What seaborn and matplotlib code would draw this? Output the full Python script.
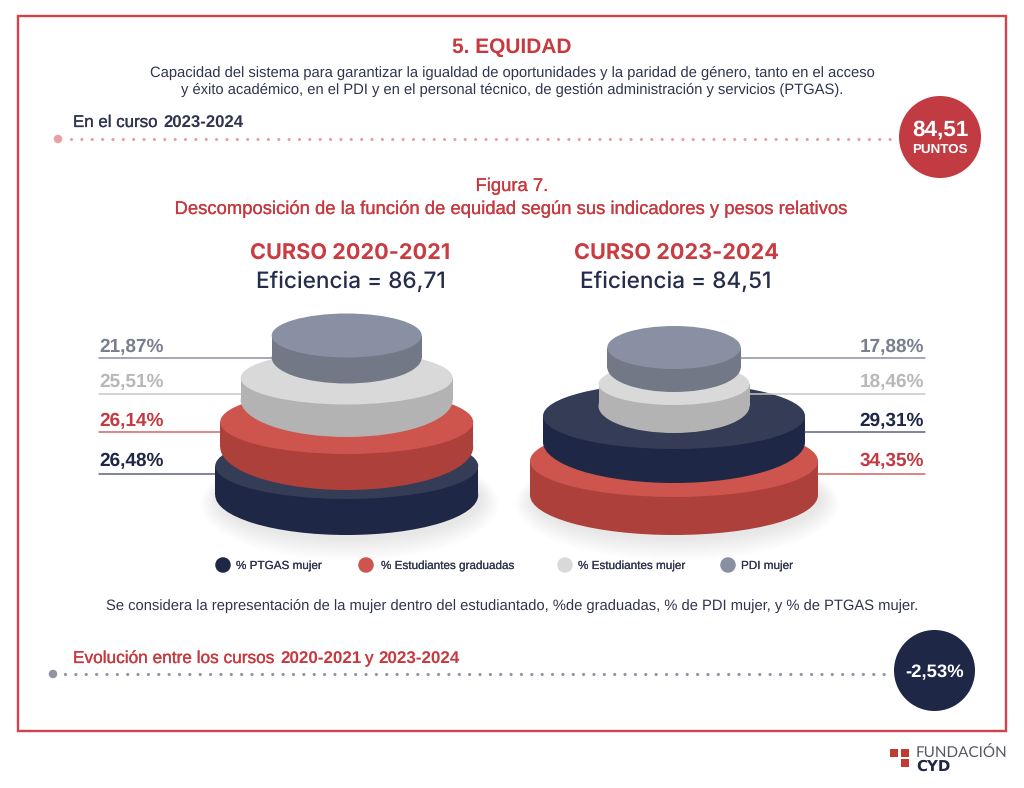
import numpy as np
import pandas as pd
import matplotlib
matplotlib.use("Agg")
import matplotlib.pyplot as plt
from matplotlib.patches import Ellipse, Rectangle
import matplotlib.patheffects as pe
import seaborn as sns

# ---------- data ----------
indicators = ["% PTGAS mujer", "% Estudiantes graduadas", "% Estudiantes mujer", "PDI mujer"]
shares_2021 = [26.48, 26.14, 25.51, 21.87]
shares_2324 = [29.31, 34.35, 18.46, 17.88]
courses = ["CURSO 2020-2021", "CURSO 2023-2024"]
efficiency = [86.71, 84.51]
score_2324 = 84.51
evolution = -2.53

# ---------- styles ----------
top_col = ["#343c56", "#cd554e", "#d9d9d9", "#8a90a3"]
side_col = ["#1f2747", "#ad403a", "#b3b3b3", "#737887"]
legend_col = ["#1f2747", "#cd554e", "#d9d9d9", "#8a90a3"]
label_col = ["#1f2747", "#c23b42", "#b8b8b8", "#7a7f8e"]
line_col = ["#5a607a", "#d0625f", "#c8c8c8", "#8a8f9f"]
RED, NAVY = "#c8393f", "#262d4c"
FRAME = "#d2444b"

# layout per rank (largest share at the bottom): rx, cy, ry, edge height, lower ry
layout_left = [(131.5, 466, 33, 29, 40), (126.5, 422, 32, 25, 43), (106, 378, 26.5, 22, 37), (75, 335.5, 22, 22, 26)]
layout_right = [(144, 461, 36, 34, 40), (131, 416, 33, 26, 41), (75.5, 384, 21, 22, 27), (66.7, 347.5, 21.5, 20, 24.5)]
rank_line_y = [474, 432, 394, 358]
rank_text_y = [466, 426, 387, 352]

sns.set_theme(style="white")
plt.rcParams["font.family"] = ["Liberation Sans", "DejaVu Sans"]
plt.rcParams["text.hinting"] = "no_hinting"

fig = plt.figure(figsize=(10.24, 7.88), dpi=100)
ax = fig.add_axes([0, 0, 1, 1])
ax.set_xlim(0, 1024)
ax.set_ylim(788, 0)
ax.axis("off")

PX = 0.72  # px -> pt


def put(x, y, s, size, color, weight="normal", ha="left", family=None, z=10, stroke=0):
    kw = {"family": family} if family else {}
    t = ax.text(x, y, s, fontsize=size * PX, color=color, fontweight=weight, ha=ha,
                va="baseline", zorder=z, **kw)
    if stroke:
        t.set_path_effects([pe.withStroke(linewidth=stroke, foreground=color)])
    return t


def comma(v, n=2):
    return f"{v:.{n}f}".replace(".", ",")


# frame
ax.add_patch(Rectangle((18, 16), 988, 715, fill=False, ec=FRAME, lw=2.4 * PX, zorder=1))

# header
put(512, 53, "5. EQUIDAD", 20.9, RED, "bold", "center")
put(512, 77, "Capacidad del sistema para garantizar la igualdad de oportunidades y la paridad de género, tanto en el acceso",
    14.8, "#2f3550", ha="center")
put(512, 94, "y éxito académico, en el PDI y en el personal técnico, de gestión administración y servicios (PTGAS).",
    14.8, "#2f3550", ha="center")
put(73, 127, "En el curso", 16.9, "#2f3550", stroke=0.2)
put(163, 127.8, "2023-2024", 16.8, "#2f3550", "bold")


def dotted(y, x0, x1, big_x, col):
    lw = 3.2 * PX
    ax.plot([x0, x1], [y, y], color=col, lw=lw, linestyle=(0, (0.01, 10.33 * PX / lw)),
            dash_capstyle="round", zorder=2)
    ax.add_patch(Ellipse((big_x, y), 8.5, 8.5, fc=col, ec="none", zorder=2))


dotted(139, 70.5, 895, 58, "#e8a0a4")
dotted(674, 65, 892, 53, "#8f93a3")

ax.add_patch(Ellipse((940, 137), 82, 82, fc="#c23b42", ec="none", zorder=3))
put(940, 136, comma(score_2324), 22.5, "white", "bold", "center")
put(940, 152.5, "PUNTOS", 13.4, "white", "bold", "center")
ax.add_patch(Ellipse((934.5, 670.5), 81, 81, fc="#1f2747", ec="none", zorder=3))
put(934.5, 677, comma(evolution) + "%", 18.5, "white", "bold", "center")

# figure title
put(512, 191, "Figura 7.", 18.45, RED, ha="center", stroke=0.15)
put(512, 214, "Descomposición de la función de equidad según sus indicadores y pesos relativos",
    18.45, RED, ha="center", stroke=0.15)


def shadow(cx, cy, rx, ry):
    for k in range(24):
        g = k / 23
        ax.add_patch(Ellipse((cx + 3, cy + 4 + 5 * (1 - g)), 2 * rx + 36 * (1 - g), 2 * ry + 34 * (1 - g),
                             fc="#000000", ec="none", alpha=0.003, zorder=3))


def disc(cx, rx, cy, ry, edge, ry_low, top, side, z):
    ax.add_patch(Ellipse((cx, cy + edge), 2 * rx, 2 * ry_low, fc=side, ec="none", zorder=z))
    ax.add_patch(Rectangle((cx - rx, cy), 2 * rx, edge, fc=side, ec="none", zorder=z))
    ax.add_patch(Ellipse((cx, cy), 2 * rx, 2 * ry, fc=top, ec="none", zorder=z + 0.1))


def stack(cx, shares, layout, course_cx, course, eff, label_right):
    order = np.argsort(shares)[::-1]
    b = layout[0]
    shadow(cx, b[1] + b[3], b[0], b[4])
    put(course_cx, 260, course, 21.7, "#c83c42", "bold", "center", family="Inter")
    put(course_cx, 288, f"Eficiencia = {comma(eff)}", 22.6, NAVY, "medium", "center", family="Inter")
    for rank, i in enumerate(order):
        rx, cy, ry, edge, ry_low = layout[rank]
        z = 4 + rank
        disc(cx, rx, cy, ry, edge, ry_low, top_col[i], side_col[i], z)
        ly = rank_line_y[rank]
        label = comma(shares[i]) + "%"
        if label_right:
            ax.plot([cx + rx, 925], [ly, ly], color=line_col[i], lw=1.5 * PX, zorder=9)
            put(924, rank_text_y[rank], label, 19, label_col[i], "bold", "right")
        else:
            ax.plot([99, cx - rx], [ly, ly], color=line_col[i], lw=1.5 * PX, zorder=3.5)
            put(99, rank_text_y[rank], label, 19, label_col[i], "bold")


stack(346.7, shares_2021, layout_left, 350.5, courses[0], efficiency[0], False)
stack(674, shares_2324, layout_right, 676, courses[1], efficiency[1], True)

# legend
legend_df = pd.DataFrame({"indicator": indicators, "x": [223, 366, 565, 728], "y": [565] * 4})
sns.scatterplot(data=legend_df, x="x", y="y", hue="indicator", hue_order=indicators,
                palette=legend_col, s=125, linewidth=0, legend=False, ax=ax, zorder=10)
ax.set_xlim(0, 1024)
ax.set_ylim(788, 0)
for name, x in zip(indicators, [236, 381, 578, 741]):
    put(x, 569, name, 11.7, "#2f3550", stroke=0.1)

put(512, 610, "Se considera la representación de la mujer dentro del estudiantado, %de graduadas, % de PDI mujer, y % de PTGAS mujer.",
    14.8, "#2f3550", ha="center")
put(73, 663, "Evolución entre los cursos", 17.25, RED, stroke=0.2)
put(280, 663.8, "2020-2021", 17, RED, "bold")
put(365, 663, "y", 17, RED, stroke=0.2)
put(378, 663.8, "2023-2024", 17, RED, "bold")

# logo
for (x, y) in [(890, 749), (900.8, 749), (900.8, 759.3)]:
    ax.add_patch(Rectangle((x, y), 8.4, 8, fc="#c23b32", ec="none"))
put(916, 757.5, "FUNDACIÓN", 15.2, "#555a68", family="Lato")
put(916, 771, "CYD", 15, "#1f2747", "bold", family="DejaVu Sans")

fig.savefig("out.png", dpi=100, facecolor="white")
